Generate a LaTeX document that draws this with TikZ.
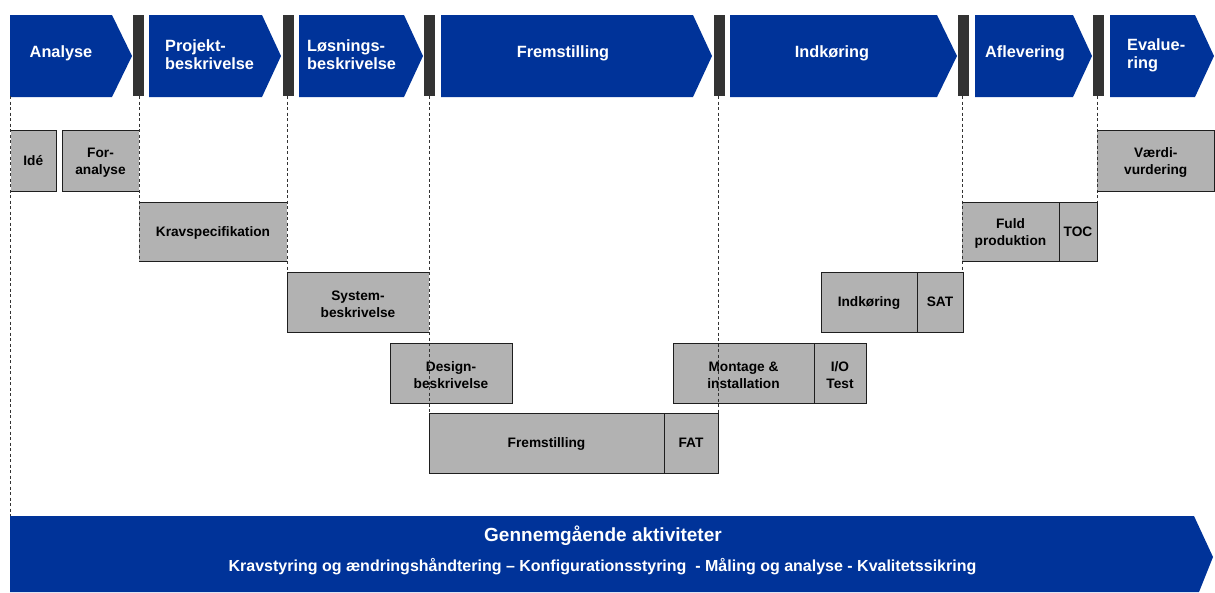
\documentclass[tikz,border=0pt]{standalone}
\usepackage{fontspec}
\setmainfont{Liberation Sans}
\definecolor{pblue}{RGB}{0,51,153}
\definecolor{barc}{RGB}{51,51,51}
\definecolor{boxg}{RGB}{178,178,178}
\definecolor{edgec}{RGB}{30,30,30}
\newcommand\mychevron[3]{\fill[phase] (#1,15) -- (#2,15) -- (#3,56) -- (#2,97) -- (#1,97) -- cycle;}
\newcommand\lift{\rule{0pt}{14.2pt}}
\begin{document}
\begin{tikzpicture}[x=1pt,y=-1pt,
  phase/.style={fill=pblue},
  gate/.style={fill=barc, draw=none, inner sep=0pt, outer sep=0pt, anchor=north west, minimum width=11pt, minimum height=81pt},
  act/.style={fill=boxg, draw=none, inner sep=0pt, outer sep=0pt, anchor=north west, align=center, text=black, font=\bfseries\fontsize{13.7}{17}\selectfont},
  one/.style={text height=9.3pt, text depth=0pt},
  phlabel/.style={text=white, inner sep=0pt, font=\bfseries\fontsize{16.3}{18}\selectfont},
  phone/.style={text height=11.7pt, text depth=0pt},
  guide/.style={draw=barc, line width=0.8pt, dash pattern=on 3pt off 2.5pt},
  edge/.style={draw=edgec, line width=0.9pt},
  bottomtxt/.style={text=white, inner sep=0pt}
]
\useasboundingbox (0,0) rectangle (1215,592);
% phase chevrons
\mychevron{10}{112}{132}
\mychevron{149}{262}{281}
\mychevron{299}{404}{423}
\mychevron{441}{693}{712}
\mychevron{730}{937}{957}
\mychevron{975}{1073}{1092}
\mychevron{1110}{1195}{1214}
% gates
\node[gate] (g1) at (133,15) {};
\node[gate] (g2) at (283,15) {};
\node[gate] (g3) at (424,15) {};
\node[gate] (g4) at (714,15) {};
\node[gate] (g5) at (958,15) {};
\node[gate] (g6) at (1093,15) {};
% phase labels
\node[phlabel, phone] (l1) at (61,51.5) {Analyse};
\node[phlabel, anchor=west, align=left] (l2) at (165,55) {Projekt-\\beskrivelse};
\node[phlabel, anchor=west, align=left] (l3) at (307,55) {Løsnings-\\beskrivelse};
\node[phlabel, phone] (l4) at (563,51.5) {Fremstilling};
\node[phlabel, phone] (l5) at (832,51.5) {Indkøring};
\node[phlabel, phone] (l6) at (1025,51.5) {Aflevering};
\node[phlabel, anchor=west, align=left] (l7) at (1127,55) {Evalue-\\ring};
% bottom bar
\fill[phase] (10,516) -- (1194,516) -- (1213,557) -- (1199,592) -- (10,592) -- cycle;
\coordinate (bbtop) at (10.5,516);
\node[bottomtxt, font=\bfseries\fontsize{19}{22}\selectfont, text height=13.6pt, text depth=0pt] (b1) at (603,535) {Gennemgående aktiviteter};
\node[bottomtxt, font=\bfseries\fontsize{16}{18}\selectfont, text height=11.5pt, text depth=0pt] (b2) at (602.5,566) {Kravstyring og ændringshåndtering – Konfigurationsstyring\ \ - Måling og analyse - Kvalitetssikring};
% activity boxes
\node[act, one, minimum width=45.5pt, minimum height=61pt] (ide) at (10.5,130) {Idé};
\node[act, minimum width=77pt, minimum height=61pt] (fora) at (62,130) {\lift For-\\analyse};
\node[act, one, minimum width=148pt, minimum height=59pt] (krav) at (139,202) {Kravspecifikation};
\node[act, minimum width=142pt, minimum height=60pt] (sys) at (287,272) {\lift System-\\beskrivelse};
\node[act, minimum width=122pt, minimum height=60pt] (des) at (390,343) {\lift Design-\\beskrivelse};
\node[act, one, minimum width=235pt, minimum height=60pt] (frem) at (429,413) {Fremstilling};
\node[act, one, minimum width=54pt, minimum height=60pt] (fat) at (664,413) {FAT};
\node[act, minimum width=141pt, minimum height=60pt] (mont) at (673,343) {\lift Montage \&\\installation};
\node[act, minimum width=52pt, minimum height=60pt] (io) at (814,343) {\lift I/O\\Test};
\node[act, one, minimum width=96pt, minimum height=60pt] (indk) at (821,272) {Indkøring};
\node[act, one, minimum width=46pt, minimum height=60pt] (sat) at (917,272) {SAT};
\node[act, minimum width=97pt, minimum height=59pt] (fuld) at (962,202) {\lift Fuld\\produktion};
\node[act, one, minimum width=38pt, minimum height=59pt] (toc) at (1059,202) {TOC};
\node[act, minimum width=117.5pt, minimum height=61pt] (vaerdi) at (1097,130) {\lift Værdi-\\vurdering};
% guides (dashed)
\draw[guide] (ide.north west |- g1.south) -- (bbtop);
\draw[guide] (krav.north west |- g1.south) -- (krav.south west);
\draw[guide] (sys.north west |- g2.south) -- (sys.north west);
\draw[guide] (sys.north east |- g3.south) -- (sys.south east);
\draw[guide] (sys.south east) -- (frem.north west);
\draw[guide] (fat.north east |- g4.south) -- (fat.north east);
\draw[guide] (fuld.north west |- g5.south) -- (fuld.north west |- indk.north);
\draw[guide] (toc.north east |- g6.south) -- (toc.north east);
% borders
\draw[edge] (ide.north west) -- (ide.north east) -- (ide.south east) -- (ide.south west);
\draw[edge] (fora.north east) -- (fora.north west) -- (fora.south west) -- (fora.south east);
\draw[edge] (krav.north west) -- (krav.north east);
\draw[edge] (krav.south west) -- (krav.south east);
\draw[edge] (sys.north east) -- (sys.north west) -- (sys.south west) -- (sys.south east);
\draw[edge] (des.north west) rectangle (des.south east);
\draw[edge] (frem.north west) rectangle (frem.south east);
\draw[edge] (fat.north west) rectangle (fat.south east);
\draw[edge] (mont.north west) rectangle (mont.south east);
\draw[edge] (io.north west) rectangle (io.south east);
\draw[edge] (indk.north west) rectangle (indk.south east);
\draw[edge] (sat.north west) rectangle (sat.south east);
\draw[edge] (fuld.north west) -- (fuld.north east) -- (fuld.south east) -- (fuld.south west);
\draw[edge] (toc.north west) rectangle (toc.south east);
\draw[edge] (vaerdi.north west) -- (vaerdi.north east) -- (vaerdi.south east) -- (vaerdi.south west);
\end{tikzpicture}
\end{document}
